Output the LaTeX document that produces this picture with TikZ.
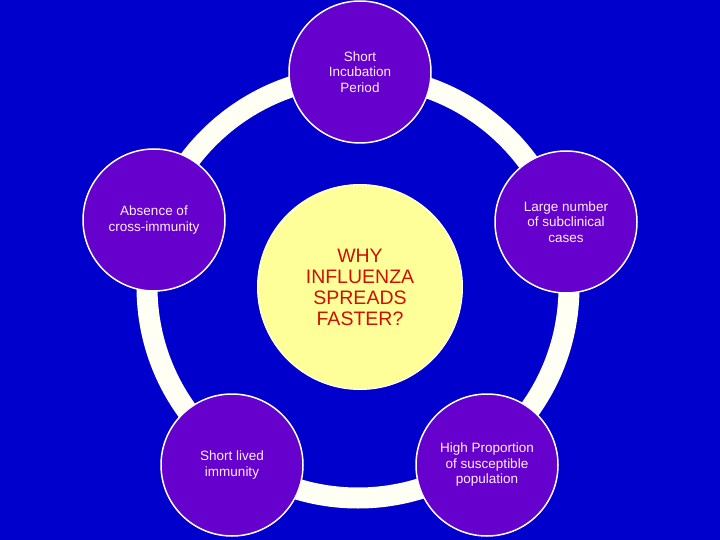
\documentclass[tikz,border=0pt]{standalone}
\usepackage{fontspec}
\setmainfont{Liberation Sans}
\definecolor{slideblue}{HTML}{0000CC}
\definecolor{causeviolet}{HTML}{6600CC}
\definecolor{ringwhite}{HTML}{FFFFF4}
\definecolor{hubyellow}{HTML}{FFFF99}
\definecolor{hubred}{HTML}{CC1100}
\definecolor{causetext}{HTML}{FFEEFF}
\begin{document}
\begin{tikzpicture}[x=1pt,y=-1pt,
    cause/.style={circle,draw=white,line width=1.5pt,fill=causeviolet,minimum size=142pt,inner sep=0pt,
        align=center,text=causetext,font=\fontsize{13.5}{15.5}\selectfont},
    hub/.style={circle,draw=white,line width=1pt,fill=hubyellow,minimum size=205pt,inner sep=0pt,
        align=center,text=hubred,font=\fontsize{19.5}{21}\selectfont}]
    \useasboundingbox (0,0) rectangle (720,540);
    \fill[slideblue] (0,0) rectangle (720,540);
    % ring behind the five causes
    \coordinate (ring) at (358,287);
    \draw[ringwhite,line width=21pt] (ring) circle (211pt);
    \node[hub] (why) at (360,287) {WHY\\INFLUENZA\\SPREADS\\FASTER?};
    \node[cause] (incub) at (360,72) {Short\\Incubation\\Period};
    \node[cause] (cross) at (154,220) {Absence of\\cross-immunity};
    \node[cause] (subcl) at (566,222) {Large number\\of subclinical\\cases};
    \node[cause] (lived) at (232,465) {Short lived\\immunity};
    \node[cause] (suscep) at (487,465) {High Proportion\\of susceptible\\population};
\end{tikzpicture}
\end{document}
